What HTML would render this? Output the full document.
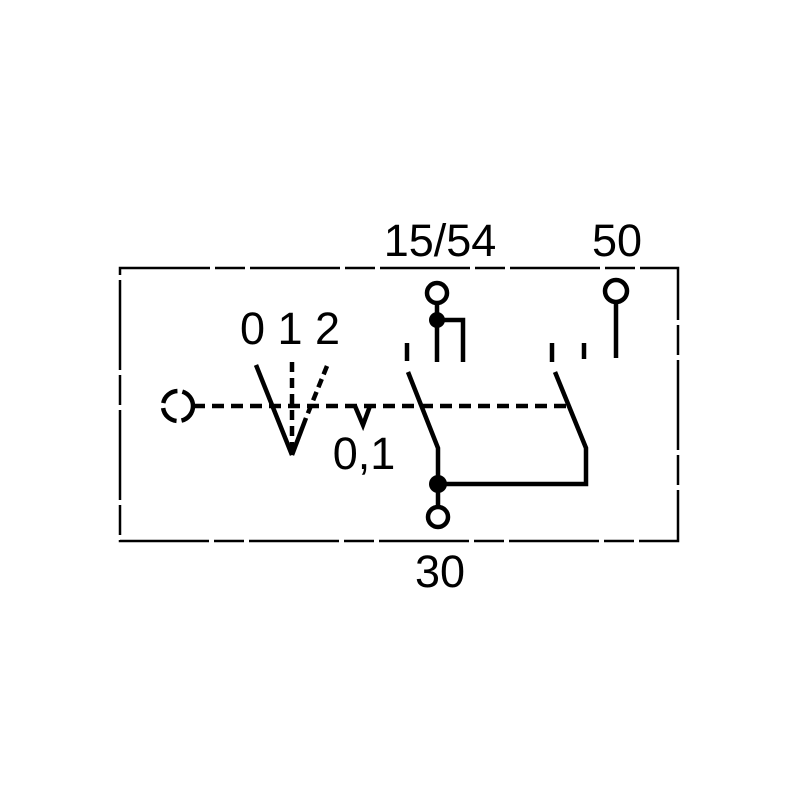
<!DOCTYPE html>
<html><head><style>
html,body{margin:0;padding:0;background:#fff;}
svg{display:block;}
text{font-family:"Liberation Sans",Arial,sans-serif;fill:#000;}
</style></head><body>
<svg width="800" height="800" viewBox="0 0 800 800" xmlns="http://www.w3.org/2000/svg">
<rect x="120" y="268" width="558" height="273" fill="none" stroke="#000" stroke-width="2.5" stroke-dasharray="90,5,30,5"/>
<g stroke="#000" stroke-width="4.5" fill="none" stroke-linecap="butt">
<circle cx="178" cy="406" r="15" stroke-dasharray="20,5"/>
<line x1="193" y1="406" x2="570" y2="406" stroke-dasharray="12,7"/>
<line x1="256" y1="365" x2="292" y2="455"/>
<line x1="292" y1="362" x2="292" y2="452" stroke-dasharray="10,6"/>
<line x1="327" y1="366" x2="306" y2="418" stroke-dasharray="9,5"/>
<line x1="306" y1="418" x2="292" y2="455"/>
<polyline points="355,406 363,425 370,406"/>
<circle cx="437" cy="293" r="10" fill="#fff"/>
<line x1="437" y1="303" x2="437" y2="362"/>
<polyline points="437,320 463,320 463,362"/>
<line x1="407" y1="343" x2="407" y2="361"/>
<polyline points="408,372 438,448 438,483"/>
<line x1="438" y1="483" x2="438" y2="507"/>
<circle cx="438" cy="517" r="10" fill="#fff"/>
<polyline points="438,484 586,484 586,448 555,372"/>
<line x1="552" y1="343" x2="552" y2="362"/>
<line x1="584" y1="343" x2="584" y2="359"/>
<circle cx="616" cy="291" r="11" fill="#fff"/>
<line x1="616" y1="302" x2="616" y2="358"/>
</g>
<circle cx="437" cy="320" r="8" fill="#000"/>
<circle cx="438" cy="484" r="9" fill="#000"/>
<text x="440" y="256" font-size="45" text-anchor="middle">15/54</text>
<text x="617" y="256" font-size="45" text-anchor="middle">50</text>
<text x="440" y="587" font-size="45" text-anchor="middle">30</text>
<text x="290" y="344" font-size="45" text-anchor="middle">0 1 2</text>
<text x="364" y="469" font-size="45" text-anchor="middle">0,1</text>
</svg>
</body></html>
